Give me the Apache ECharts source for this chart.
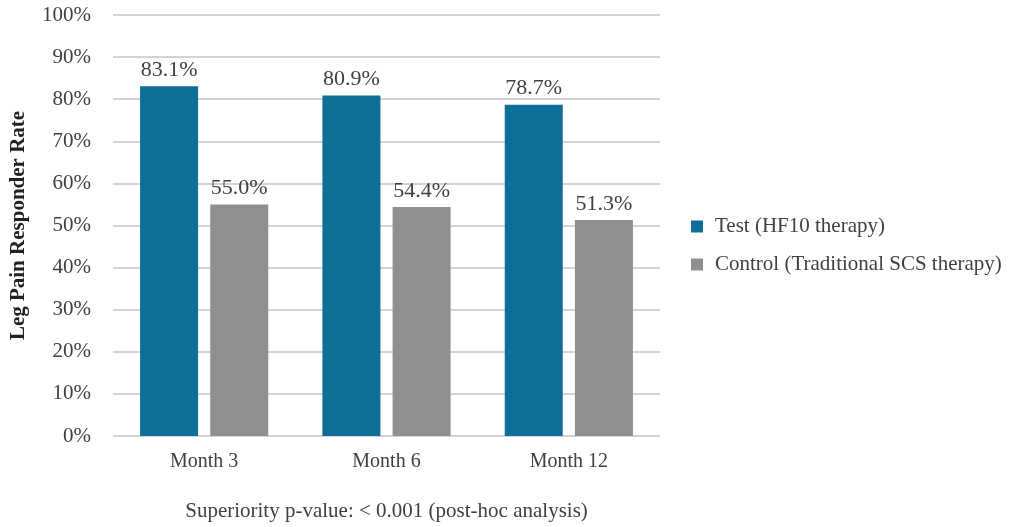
<!DOCTYPE html>
<html>
<head>
<meta charset="utf-8">
<script src="https://cdn.jsdelivr.net/npm/echarts@6/dist/echarts.min.js"></script>
<style>
html,body{margin:0;padding:0;background:#fff;}
#chart{width:1009px;height:527px;}
</style>
</head>
<body>
<div id="chart"></div>
<script>
const categories = ['Month 3', 'Month 6', 'Month 12'];
const testValues = [83.1, 80.9, 78.7];
const controlValues = [55.0, 54.4, 51.3];
const seriesNames = ['Test (HF10 therapy)', 'Control (Traditional SCS therapy)'];

const FONT = 'Liberation Serif';
const TEXT = '#404040';
const chart = echarts.init(document.getElementById('chart'));

const labelStyle = {
  show: true,
  position: 'top',
  distance: 5,
  fontFamily: FONT,
  fontSize: 22,
  color: TEXT,
  formatter: p => p.value.toFixed(1) + '%'
};

chart.setOption({
  animation: false,
  textStyle: { fontFamily: FONT },
  grid: { left: 112, right: 349, top: 15, bottom: 85 },
  legend: {
    orient: 'vertical',
    left: 686,
    top: 211,
    itemWidth: 12,
    itemHeight: 12,
    itemGap: 17,
    icon: 'rect',
    textStyle: { fontFamily: FONT, fontSize: 21, color: TEXT, padding: [0, 0, 0, 7] },
    data: seriesNames
  },
  xAxis: {
    type: 'category',
    data: categories,
    axisLine: { show: false },
    axisTick: { show: false },
    axisLabel: { fontFamily: FONT, fontSize: 20, color: TEXT, margin: 16 },
    name: 'Superiority p-value: < 0.001 (post-hoc analysis)',
    nameLocation: 'middle',
    nameGap: 65,
    nameTextStyle: { fontFamily: FONT, fontSize: 21, color: TEXT }
  },
  yAxis: {
    type: 'value',
    min: 0,
    max: 100,
    interval: 10,
    axisLabel: {
      formatter: v => v + '%',
      fontFamily: FONT,
      fontSize: 21,
      color: TEXT,
      margin: 22
    },
    splitLine: { lineStyle: { color: '#c4c4c4', width: 1.5 } },
    name: 'Leg Pain Responder Rate',
    nameLocation: 'middle',
    nameGap: 84,
    nameTextStyle: { fontFamily: FONT, fontSize: 21, fontWeight: 'bold', color: '#222' }
  },
  series: [
    {
      name: seriesNames[0],
      type: 'bar',
      data: testValues,
      barWidth: 58,
      barGap: '21%',
      itemStyle: { color: '#0f6e98' },
      label: labelStyle
    },
    {
      name: seriesNames[1],
      type: 'bar',
      data: controlValues,
      barWidth: 58,
      itemStyle: { color: '#8f8f8f' },
      label: labelStyle
    }
  ]
});
</script>
</body>
</html>
